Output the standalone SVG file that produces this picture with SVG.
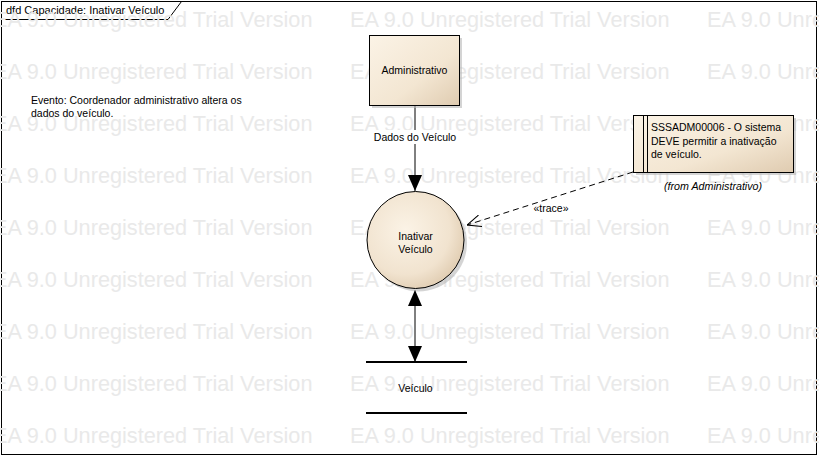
<svg xmlns="http://www.w3.org/2000/svg" width="819" height="457" viewBox="0 0 819 457">
<style>
text{font-family:"Liberation Sans",Arial,sans-serif;font-size:10.5px;fill:#000}
.wm{font-size:21.7px;fill:#e9e9e9}
.ln{stroke:#000;stroke-width:1;fill:none}
.shadow{fill:#b8b8b8;opacity:.6}
</style>
<defs>
<linearGradient id="gBox" x1="0" y1="0" x2="1" y2="1">
<stop offset="0" stop-color="#fbf3e6"/>
<stop offset="0.6" stop-color="#f3e6d2"/>
<stop offset="1" stop-color="#dfcbb0"/>
</linearGradient>
<radialGradient id="gCirc" cx="0.4" cy="0.4" r="0.65">
<stop offset="0" stop-color="#fbf3e6"/>
<stop offset="0.7" stop-color="#f1e3cf"/>
<stop offset="1" stop-color="#e0ccb1"/>
</radialGradient>
<marker id="arrFill" viewBox="0 0 16 14" refX="16" refY="7" markerWidth="16" markerHeight="14" markerUnits="userSpaceOnUse" orient="auto-start-reverse">
<path d="M0,0 L16,7 L0,14 Z" fill="#000"/>
</marker>
<marker id="arrOpen" viewBox="0 0 14 12" refX="14" refY="6" markerWidth="14" markerHeight="12" markerUnits="userSpaceOnUse" orient="auto">
<path d="M0,0 L14,6 L0,12" fill="none" stroke="#000" stroke-width="1"/>
</marker>
</defs>

<rect x="0" y="0" width="819" height="457" fill="#fff"/>

<g id="frame">
<rect x="1.5" y="1.5" width="815" height="453" class="ln"/>
<path d="M1.5,19.5 L168,19.5 L181.5,1.5" class="ln"/>
<text x="6" y="14" style="font-size:11px">dfd Capacidade: Inativar Veículo</text>
</g>

<g id="watermark">
<text class="wm" x="-7" y="27">EA 9.0 Unregistered Trial Version</text>
<text class="wm" x="350" y="27">EA 9.0 Unregistered Trial Version</text>
<text class="wm" x="707" y="27">EA 9.0 Unregistered Trial Version</text>
<text class="wm" x="-7" y="79">EA 9.0 Unregistered Trial Version</text>
<text class="wm" x="350" y="79">EA 9.0 Unregistered Trial Version</text>
<text class="wm" x="707" y="79">EA 9.0 Unregistered Trial Version</text>
<text class="wm" x="-7" y="131">EA 9.0 Unregistered Trial Version</text>
<text class="wm" x="350" y="131">EA 9.0 Unregistered Trial Version</text>
<text class="wm" x="707" y="131">EA 9.0 Unregistered Trial Version</text>
<text class="wm" x="-7" y="183">EA 9.0 Unregistered Trial Version</text>
<text class="wm" x="350" y="183">EA 9.0 Unregistered Trial Version</text>
<text class="wm" x="707" y="183">EA 9.0 Unregistered Trial Version</text>
<text class="wm" x="-7" y="235">EA 9.0 Unregistered Trial Version</text>
<text class="wm" x="350" y="235">EA 9.0 Unregistered Trial Version</text>
<text class="wm" x="707" y="235">EA 9.0 Unregistered Trial Version</text>
<text class="wm" x="-7" y="287">EA 9.0 Unregistered Trial Version</text>
<text class="wm" x="350" y="287">EA 9.0 Unregistered Trial Version</text>
<text class="wm" x="707" y="287">EA 9.0 Unregistered Trial Version</text>
<text class="wm" x="-7" y="339">EA 9.0 Unregistered Trial Version</text>
<text class="wm" x="350" y="339">EA 9.0 Unregistered Trial Version</text>
<text class="wm" x="707" y="339">EA 9.0 Unregistered Trial Version</text>
<text class="wm" x="-7" y="391">EA 9.0 Unregistered Trial Version</text>
<text class="wm" x="350" y="391">EA 9.0 Unregistered Trial Version</text>
<text class="wm" x="707" y="391">EA 9.0 Unregistered Trial Version</text>
<text class="wm" x="-7" y="443">EA 9.0 Unregistered Trial Version</text>
<text class="wm" x="350" y="443">EA 9.0 Unregistered Trial Version</text>
<text class="wm" x="707" y="443">EA 9.0 Unregistered Trial Version</text>
</g>

<g id="note-evento">
<text x="31" y="104">Evento: Coordenador administrativo altera os</text>
<text x="31" y="117">dados do veículo.</text>
</g>

<g id="connectors">
<line x1="415" y1="105" x2="415" y2="191" class="ln" marker-end="url(#arrFill)"/>
<rect x="372" y="130" width="86" height="14" fill="#fff"/>
<text x="415" y="141" text-anchor="middle">Dados do Veículo</text>
<line x1="415" y1="290" x2="415" y2="362" class="ln" marker-start="url(#arrFill)" marker-end="url(#arrFill)"/>
<line x1="633" y1="172" x2="467" y2="225" class="ln" stroke-dasharray="6,4" marker-end="url(#arrOpen)"/>
<text x="551" y="212" text-anchor="middle" style="font-size:10.5px">«trace»</text>
</g>

<g id="node-administrativo">
<rect x="372" y="38" width="90" height="70" class="shadow"/>
<rect x="369.5" y="35.5" width="90" height="70" fill="url(#gBox)" stroke="#000"/>
<text x="414.5" y="74" text-anchor="middle">Administrativo</text>
</g>

<g id="node-inativar">
<circle cx="418.5" cy="243" r="48.5" class="shadow"/>
<circle cx="415.5" cy="240" r="48.5" fill="url(#gCirc)" stroke="#000"/>
<text x="415.5" y="240" text-anchor="middle">Inativar</text>
<text x="415.5" y="253" text-anchor="middle">Veículo</text>
</g>

<g id="node-requisito">
<rect x="636" y="118" width="160" height="57" class="shadow"/>
<rect x="633.5" y="115.5" width="160" height="57" fill="url(#gBox)" stroke="#000"/>
<line x1="643.5" y1="115.5" x2="643.5" y2="172.5" class="ln"/>
<line x1="647.5" y1="115.5" x2="647.5" y2="172.5" class="ln"/>
<text x="651" y="131">SSSADM00006 - O sistema</text>
<text x="651" y="144.5">DEVE permitir a inativação</text>
<text x="651" y="158">de veículo.</text>
<text x="713" y="190" text-anchor="middle" style="font-size:10.7px;font-style:italic">(from Administrativo)</text>
</g>

<g id="node-veiculo-store">
<line x1="366" y1="362" x2="467" y2="362" stroke="#000" stroke-width="2"/>
<line x1="366" y1="413" x2="467" y2="413" stroke="#000" stroke-width="2"/>
<text x="415.5" y="392" text-anchor="middle">Veículo</text>
</g>
</svg>
